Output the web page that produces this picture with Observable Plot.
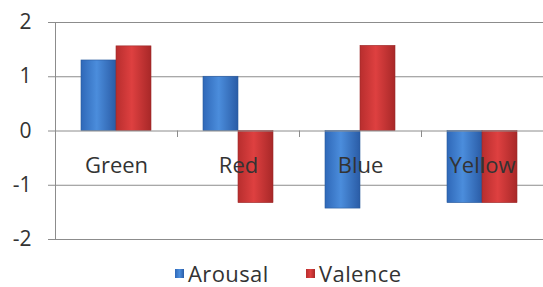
<!DOCTYPE html>
<html>
<head>
<meta charset="utf-8">
<script src="https://cdn.jsdelivr.net/npm/d3@7"></script>
<script src="https://cdn.jsdelivr.net/npm/@observablehq/plot@0.6"></script>
<style>
  html, body { margin: 0; padding: 0; background: #fff; }
  #wrap { position: relative; width: 543px; height: 287px; font-family: "Open Sans", sans-serif; }
  #legend { position: absolute; left: 0; top: 258px; width: 543px; height: 29px; color: #333; font-size: 22px; letter-spacing: 0.4px; }
  .item { position: absolute; top: 0; display: flex; align-items: center; gap: 4px; }
  .sw { width: 9px; height: 9px; }
</style>
</head>
<body>
<div id="wrap"></div>
<script>
const categories = ["Green", "Red", "Blue", "Yellow"];
const seriesNames = ["Arousal", "Valence"];
const arousal = [1.30, 1.0, -1.43, -1.33];
const valence = [1.56, -1.33, 1.57, -1.33];
const yTicks = [-2, -1, 0, 1, 2];
const colors = { Arousal: "url(#gBlue)", Valence: "url(#gRed)" };

const arousalData = categories.map((c, i) => ({ category: c, series: "Arousal", value: arousal[i] }));
const valenceData = categories.map((c, i) => ({ category: c, series: "Valence", value: valence[i] }));

const W = 543, H = 287;
const mL = 55, mR = 0;
const step = (W - mL - mR) / categories.length;
const barW = 35;
const inset = (step - barW) / 2;

const chart = Plot.plot({
  width: W,
  height: H,
  marginLeft: mL,
  marginRight: mR,
  marginTop: 22,
  marginBottom: 48,
  style: { fontFamily: "Open Sans, sans-serif", background: "transparent" },
  x: { domain: categories, padding: 0, axis: null },
  y: { domain: [-2, 2], axis: null },
  marks: [
    Plot.gridY([-2, -1, 1, 2], { stroke: "#8c8c8c", strokeOpacity: 1, strokeWidth: 1 }),
    Plot.frame({ anchor: "left", stroke: "#8c8c8c" }),
    Plot.axisY(yTicks, { tickSize: 7, tickPadding: 17, fontSize: 21, fill: "#333", stroke: "#8c8c8c", label: null, tickFormat: d => String(d) }),
    Plot.barY(arousalData, { x: "category", y: "value", fill: colors.Arousal, insetLeft: inset, insetRight: inset, dx: -barW / 2, stroke: "#2a5a9c", strokeWidth: 0.6 }),
    Plot.barY(valenceData, { x: "category", y: "value", fill: colors.Valence, insetLeft: inset, insetRight: inset, dx: barW / 2, stroke: "#9c2a2a", strokeWidth: 0.6 }),
    Plot.ruleY([0], { stroke: "#8c8c8c" }),
    Plot.ruleX(categories.slice(0, -1), { x: d => d, dx: step / 2, y1: 0, y2: -0.12, stroke: "#8c8c8c" }),
    Plot.text(categories, { x: d => d, y: 0, dy: 35, fontSize: 22, fill: "#333", style: "letter-spacing:0.4px" })
  ]
});

const defs = `
<defs>
  <linearGradient id="gBlue" x1="0" x2="1" y1="0" y2="0">
    <stop offset="0" stop-color="#2f68b8"/>
    <stop offset="0.45" stop-color="#4b8ddc"/>
    <stop offset="1" stop-color="#2a5ca6"/>
  </linearGradient>
  <linearGradient id="gRed" x1="0" x2="1" y1="0" y2="0">
    <stop offset="0" stop-color="#b82e2e"/>
    <stop offset="0.45" stop-color="#de4040"/>
    <stop offset="1" stop-color="#a82828"/>
  </linearGradient>
</defs>`;
chart.insertAdjacentHTML("afterbegin", defs);

const wrap = document.getElementById("wrap");
wrap.appendChild(chart);

const legend = document.createElement("div");
legend.id = "legend";
const lefts = { Arousal: 175, Valence: 306 };
const swatch = { Arousal: "linear-gradient(90deg,#2f68b8,#4b8ddc,#2a5ca6)", Valence: "linear-gradient(90deg,#b82e2e,#de4040,#a82828)" };
for (const s of seriesNames) {
  const it = document.createElement("div");
  it.className = "item";
  it.style.left = lefts[s] + "px";
  const sw = document.createElement("div");
  sw.className = "sw";
  sw.style.background = swatch[s];
  const t = document.createElement("span");
  t.textContent = s;
  it.appendChild(sw);
  it.appendChild(t);
  legend.appendChild(it);
}
wrap.appendChild(legend);
</script>
</body>
</html>
